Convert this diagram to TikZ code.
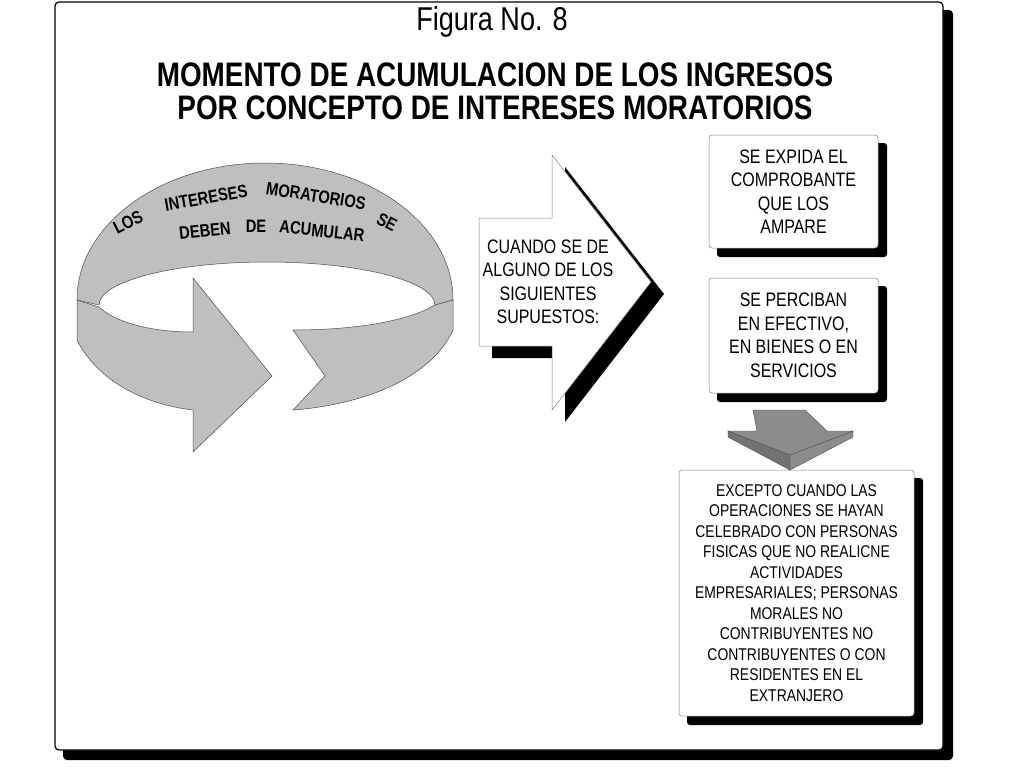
\documentclass[tikz,border=0pt]{standalone}
\usepackage{fontspec}
\setmainfont{Liberation Sans}
\newfontfamily\nar[FakeStretch=0.82]{Liberation Sans}
\begin{document}
\begin{tikzpicture}[x=1pt,y=-1pt,
  bandfill/.style={fill=black!25,draw=black!70,line width=0.5pt},
  box/.style={draw=black!50,fill=white,rounded corners=3pt,line width=0.5pt},
  shad/.style={fill=black,rounded corners=3pt},
  btxt/.style={font=\nar\fontsize{19.5}{23.5}\selectfont,align=center},
  rt/.style={font=\nar\bfseries\fontsize{18}{18}\selectfont,inner sep=0pt}]
\useasboundingbox (0,0) rectangle (1024,768);
% frame
\fill[rounded corners=4pt] (63,10) rectangle (953,760);
\draw[fill=white,line width=1.2pt,rounded corners=4pt] (55,2) rectangle (943,750);
\node (title) at (492,22) {\nar\fontsize{33}{33}\selectfont Figura No. 8};
\node[align=center,font=\nar\bfseries\fontsize{34}{33}\selectfont] (head) at (495,91) {MOMENTO DE ACUMULACION DE LOS INGRESOS\\POR CONCEPTO DE INTERESES MORATORIOS};
% ring
\path[bandfill] (77,300) arc[start angle=180,end angle=360,x radius=188,y radius=137] -- (435,305) arc[start angle=0,end angle=-180,x radius=168,y radius=43] -- cycle;
\path[bandfill] (77,300) -- (77,340) .. controls (100,385) and (150,405) .. (193,410) -- (193,452) -- (272,376) -- (193,278) -- (193,332) .. controls (150,332) and (115,322) .. (99,307) -- cycle;
\path[bandfill] (453,300) -- (453,330) .. controls (430,380) and (360,405) .. (293,410) -- (325,376) -- (293,330) .. controls (360,330) and (410,320) .. (435,305) -- cycle;
\node[rt,rotate=27] (w1) at (128,222) {LOS};
\node[rt,rotate=10] (w2) at (206,198) {INTERESES};
\node[rt,rotate=-9] (w3) at (316,196) {MORATORIOS};
\node[rt,rotate=-27] (w4) at (387,222) {SE};
\node[rt,rotate=6] (w5) at (205,231) {DEBEN};
\node[rt,rotate=0] (w6) at (256,226) {DE};
\node[rt,rotate=-6] (w7) at (322,231) {ACUMULAR};
% big arrow
\fill (492,230) -- (565,230) -- (565,167) -- (664,294) -- (565,422) -- (565,358) -- (492,358) -- cycle;
\draw[fill=white,draw=black!50,line width=0.5pt] (479,218) -- (552,218) -- (552,155) -- (651,282) -- (552,410) -- (552,346) -- (479,346) -- cycle;
\node[btxt,inner sep=0pt] (cuando) at (548,282) {CUANDO SE DE\\ALGUNO DE LOS\\SIGUIENTES\\SUPUESTOS:};
% boxes
\fill[shad] (717,143) rectangle (887,257);
\node[box,minimum width=169pt,minimum height=113pt,btxt] (b1) at (793.5,191.5) {SE EXPIDA EL\\COMPROBANTE\\QUE LOS\\AMPARE};
\fill[shad] (717,286) rectangle (887,402);
\node[box,minimum width=169pt,minimum height=115pt,btxt] (b2) at (793.5,335.5) {SE PERCIBAN\\EN EFECTIVO,\\EN BIENES O EN\\SERVICIOS};
\fill[shad] (687,478) rectangle (923,725);
\node[box,minimum width=235pt,minimum height=246pt,align=center,font=\nar\fontsize{17}{20.5}\selectfont] (b3) at (796.5,593) {EXCEPTO CUANDO LAS\\OPERACIONES SE HAYAN\\CELEBRADO CON PERSONAS\\FISICAS QUE NO REALICNE\\ACTIVIDADES\\EMPRESARIALES; PERSONAS\\MORALES NO\\CONTRIBUYENTES NO\\CONTRIBUYENTES O CON\\RESIDENTES EN EL\\EXTRANJERO};
% down arrow
\draw[fill=black!55,draw=black!70,line width=0.4pt] (728,431) -- (790,455) -- (790,470) -- (728,437) -- cycle;
\draw[fill=black!45,draw=black!70,line width=0.4pt] (790,455) -- (853,431) -- (853,437) -- (790,470) -- cycle;
\draw[fill=black!45,draw=black!70,line width=0.4pt] (753,410) -- (805,410) -- (827,431) -- (853,431) -- (790,455) -- (728,431) -- (757,431) -- cycle;
\end{tikzpicture}
\end{document}
